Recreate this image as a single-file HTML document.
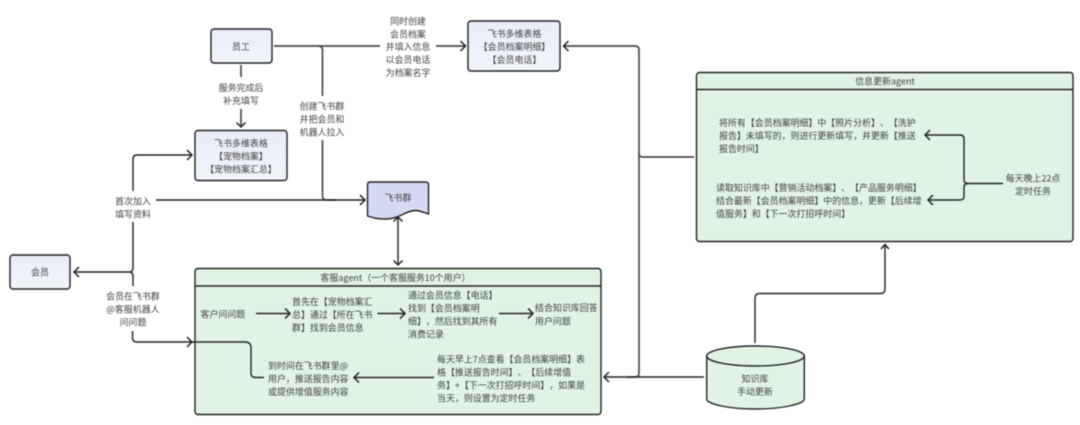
<!DOCTYPE html>
<html lang="zh">
<head>
<meta charset="utf-8">
<style>
html,body{margin:0;padding:0;background:#fff;width:1080px;height:425px;overflow:hidden}
svg{display:block;filter:blur(.4px)}
text{font-family:"Noto Sans CJK SC","Liberation Sans",sans-serif;font-size:8.95px;fill:#404040;text-spacing-trim:space-all;font-kerning:none}
.m{text-anchor:middle}
.box{fill:url(#b);stroke:#222;stroke-width:1.4}
.g{fill:#e1f3e5;stroke:#222;stroke-width:1.4}
.l{fill:none;stroke:#222;stroke-width:1.4}
.d{fill:none;stroke:#4a4a4a;stroke-width:1.7}
.a{fill:none;stroke:#222;stroke-width:1.5}
</style>
</head>
<body>
<svg width="1080" height="425" viewBox="0 0 1080 425" xmlns="http://www.w3.org/2000/svg">
<defs>
<linearGradient id="b" x1="0" y1="0" x2="0" y2="1"><stop offset="0" stop-color="#e9edf9"/><stop offset="1" stop-color="#f2f4fb"/></linearGradient>
</defs>
<rect width="1080" height="425" fill="#fff"/>

<!-- boxes -->
<rect class="box" x="211" y="29" width="61" height="34" rx="3"/>
<text class="m" x="241" y="50">员工</text>
<rect class="box" x="195" y="130.500" width="92" height="50" rx="3"/>
<text class="m" x="241" y="146.500">飞书多维表格</text>
<text class="m" x="241" y="159.500">【宠物档案】</text>
<text class="m" x="241" y="172.500">【宠物档案汇总】</text>
<rect class="box" x="468" y="21" width="92" height="50" rx="3"/>
<text class="m" x="514.500" y="37">飞书多维表格</text>
<text class="m" x="514.500" y="50">【会员档案明细】</text>
<text class="m" x="514.500" y="63">【会员电话】</text>
<rect class="box" x="10" y="255" width="60" height="34" rx="3"/>
<text class="m" x="40" y="275.500">会员</text>

<!-- doc -->
<path d="M367.500 185q0-3 3-3h55q3 0 3 3v29c-6-2-9-3.500-13-3.500c-10 0-16 8.500-30 8.500c-8 0-12-1-18-3z" fill="#d5daf2" stroke="#222" stroke-width="1.400"/>
<text class="m" x="398" y="201">飞书群</text>

<!-- agent 1 -->
<rect class="g" x="195" y="268.500" width="406" height="146" rx="3"/>
<line class="l" x1="195" y1="286" x2="601" y2="286" stroke-width="1.700"/>
<text class="m" x="395.500" y="281">客服agent（一个客服服务10个用户）</text>
<text x="200.500" y="317.500">客户问问题</text>
<text x="292" y="305">首先在【宠物档案汇</text>
<text x="292" y="318">总】通过【所在飞书</text>
<text x="292" y="331">群】找到会员信息</text>
<text x="408" y="298.500">通过会员信息【电话】</text>
<text x="408" y="311.500">找到【会员档案明</text>
<text x="408" y="324.500">细】，然后找到其所有</text>
<text x="408" y="337.500">消费记录</text>
<text x="535" y="311">结合知识库回答</text>
<text x="535" y="324.500">用户问题</text>
<text x="268" y="369">到时间在飞书群里@</text>
<text x="268" y="382">用户，推送报告内容</text>
<text x="268" y="395">或提供增值服务内容</text>
<text x="437" y="362.500">每天早上7点查看【会员档案明细】表</text>
<text x="437" y="375.500">格【推送报告时间】、【后续增值</text>
<text x="437" y="388.500">务】+【下一次打招呼时间】，如果是</text>
<text x="437" y="401.500">当天，则设置为定时任务</text>

<!-- agent 2 -->
<rect class="g" x="696.500" y="72.500" width="376.500" height="169" rx="3"/>
<line class="l" x1="696.500" y1="89.500" x2="1073" y2="89.500"/>
<text class="m" x="885" y="84.500">信息更新agent</text>
<text x="719" y="126">将所有【会员档案明细】中【照片分析】、【洗护</text>
<text x="719" y="139">报告】未填写的，则进行更新填写，并更新【推送</text>
<text x="719" y="152">报告时间】</text>
<text x="716" y="191">读取知识库中【营销活动档案】、【产品服务明细】</text>
<text x="716" y="204">结合最新【会员档案明细】中的信息，更新【后续增</text>
<text x="716" y="217">值服务】和【下一次打招呼时间】</text>
<text class="m" x="1033" y="181.500">每天晚上22点</text>
<text class="m" x="1033" y="194.500">定时任务</text>

<!-- cylinder -->
<path d="M706.700 356v43c0 5 22 10 48.800 10s48.800-5 48.800-10v-43" fill="#e1f3e5" stroke="#222" stroke-width="1.400"/>
<ellipse cx="755.500" cy="356" rx="48.800" ry="10" fill="#e1f3e5" stroke="#222" stroke-width="1.400"/>
<text class="m" x="755" y="382">知识库</text>
<text class="m" x="755" y="395">手动更新</text>

<!-- connectors -->
<path class="d" d="M241 65v12"/>
<text class="m" x="241" y="91">服务完成后</text>
<text class="m" x="241" y="104">补充填写</text>
<path class="d" d="M241 109v18"/>
<path class="a" d="M236.500 122.500l4.500 4.500l4.500-4.500"/>

<path class="d" d="M274 46h106"/>
<path class="d" d="M318 46q4.500 0 4.500 4.500V96"/>
<path class="d" d="M322.500 140v56q0 4 4 4h10"/>
<text class="m" x="322" y="109.500">创建飞书群</text>
<text class="m" x="322" y="122.500">并把会员和</text>
<text class="m" x="322" y="135.500">机器人拉入</text>
<text class="m" x="408" y="24.500">同时创建</text>
<text class="m" x="408" y="37.500">会员档案</text>
<text class="m" x="408" y="50">并填入信息</text>
<text class="m" x="408" y="63">以会员电话</text>
<text class="m" x="408" y="76">为档案名字</text>
<path class="d" d="M436 46h29"/>
<path class="a" d="M460.500 41l5 5l-5 5"/>

<path class="l" d="M156 200h208.500"/>
<path class="a" d="M360 195l5 5l-5 5"/>
<text class="m" x="133" y="204.500">首次加入</text>
<text class="m" x="133" y="217.500">填写资料</text>
<path class="l" d="M133 191v-32q0-4 4-4h54.500"/>
<path class="a" d="M187 150l5 5l-5 5"/>
<path class="l" d="M133 222v46q0 4-4 4H75M129 272q4 0 4 4v10"/>
<path class="a" d="M79 267l-5 5l5 5"/>
<text class="m" x="133" y="299.500">会员在飞书群</text>
<text class="m" x="133" y="312.500">@客服机器人</text>
<text class="m" x="133" y="325.500">问问题</text>
<path class="l" d="M132.500 331v7q0 4 4 4H191"/>
<path class="a" d="M187 337l5 5l-5 5"/>
<path class="l" d="M190 342h55q6 0 6 6v25q0 4.500 4.500 4.500h8.500"/>

<path class="l" d="M398 218v46"/>
<path class="a" d="M393.500 221.500l4.500-4.500l4.500 4.500"/>
<path class="a" d="M393.500 260.500l4.500 4.500l4.500-4.500"/>

<path class="l" d="M256 313.500h33"/>
<path class="a" d="M285 308.500l5 5l-5 5"/>
<path class="l" d="M377.500 313.500h27"/>
<path class="a" d="M400 308.500l5 5l-5 5"/>
<path class="l" d="M499 313.500h33.500"/>
<path class="a" d="M528 308.500l5 5l-5 5"/>
<path class="l" d="M354 377.500h80"/>
<path class="a" d="M359 372.500l-5 5l5 5"/>

<path class="d" d="M694 157h-51q-4 0-4-4V50q0-4-4-4h-71"/>
<path class="a" d="M568.500 41l-5 5l5 5"/>
<path class="d" d="M639 153v220q0 4-4 4h-8"/>
<path class="l" d="M704 377h-99"/>
<path class="a" d="M609 372l-5 5l5 5"/>

<path class="l" d="M755 343v-45q0-4.500 4.500-4.500h121q4.500 0 4.500-4.500v-43.500"/>
<path class="a" d="M881 249l4-4.500l4 4.500"/>

<path class="l" d="M1003 183.500h-35q-4 0-4-4V139q0-4-4-4h-34"/>
<path class="a" d="M930 130l-5 5l5 5"/>
<path class="l" d="M968 183.500q-4 0-4 4V196q0 4-4 4h-31"/>
<path class="a" d="M933 195l-5 5l5 5"/>
</svg>
</body>
</html>
